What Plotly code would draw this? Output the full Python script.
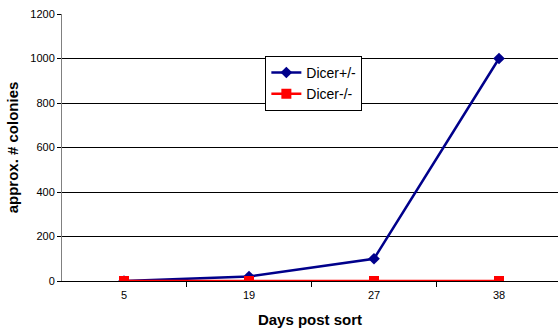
import plotly.graph_objects as go

days = ["5", "19", "27", "38"]
dicer_het = [0, 20, 100, 1000]
dicer_ko = [0, 0, 0, 0]

fig = go.Figure()
fig.add_trace(go.Scatter(x=days, y=dicer_het, name="Dicer+/-", mode="lines+markers",
                         line=dict(color="#00008B", width=2.5),
                         marker=dict(symbol="diamond", size=9, color="#00008B")))
fig.add_trace(go.Scatter(x=days, y=dicer_ko, name="Dicer-/-", mode="lines+markers",
                         line=dict(color="#FF0000", width=2.5),
                         marker=dict(symbol="square", size=10, color="#FF0000")))

fig.update_layout(
    width=558, height=333,
    margin=dict(l=62, r=0, t=14, b=52, autoexpand=False),
    plot_bgcolor="white", paper_bgcolor="white",
    font=dict(family="Liberation Sans, Arial", size=11, color="black"),
    showlegend=True,
    legend=dict(x=0.41, y=0.843, xanchor="left", yanchor="top",
                bgcolor="white", bordercolor="black", borderwidth=1,
                font=dict(size=14), tracegroupgap=0, itemwidth=30),
    xaxis=dict(type="category", range=[-0.496, 3.472], tickson="boundaries",
               ticks="outside", ticklen=5, tickcolor="black", automargin=False,
               ticklabelstandoff=4,
               showline=True, linecolor="black", linewidth=1,
               showgrid=False, zeroline=False,
               title=dict(text="<b>Days post sort</b>", font=dict(size=15), standoff=14)),
    yaxis=dict(range=[0, 1200], dtick=200, ticks="outside", ticklen=4, tickcolor="black",
               automargin=False,
               showline=True, linecolor="#808080", linewidth=1,
               showgrid=True, gridcolor="black", gridwidth=1, zeroline=False,
               title=dict(text="<b>approx. # colonies</b>", font=dict(size=15), standoff=8)),
)
fig.write_html("out.html", config={"displayModeBar": False},
               post_script="document.body.style.margin='0';document.body.style.overflow='hidden';")
